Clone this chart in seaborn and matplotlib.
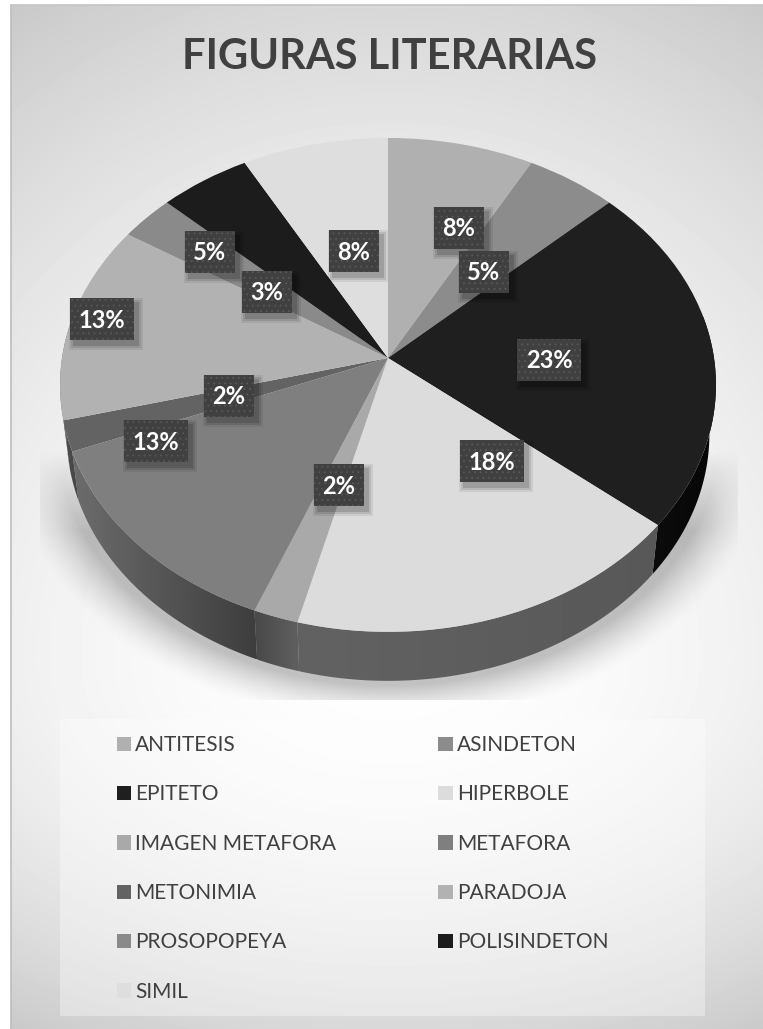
"""Figuras literarias: pastel en perspectiva, escala de grises."""

import matplotlib
matplotlib.use("Agg")
import matplotlib.patches as mpatches
import matplotlib.pyplot as plt
import matplotlib.transforms as mtrans
import numpy as np
import seaborn as sns

categorias = ["ANTITESIS", "ASINDETON", "EPITETO", "HIPERBOLE", "IMAGEN METAFORA", "METAFORA",
              "METONIMIA", "PARADOJA", "PROSOPOPEYA", "POLISINDETON", "SIMIL"]
valores = [8, 5, 23, 18, 2, 13, 2, 13, 3, 5, 8]

colores = ["#b0b0b0", "#8c8c8c", "#1f1f1f", "#dcdcdc", "#a9a9a9", "#7f7f7f",
           "#636363", "#b2b2b2", "#8a8a8a", "#1c1c1c", "#dedede"]
# gris del lateral (izquierda, derecha)
lateral = [(120, 120), (90, 90), (12, 6), (98, 88), (72, 96), (108, 62),
           (78, 70), (120, 112), (90, 90), (30, 30), (120, 120)]
# etiquetas movidas a mano en el original (centro en pixeles)
pos_etiquetas = [(459, 228), (484, 272), (549, 360), (492, 461), (339, 485), (156, 441),
                 (229, 396), (102, 319), (267, 292), (210, 252), (354, 251)]

W, H = 763, 1029
CX, CY = 388, 358
RX, RY, PERSP = 326, 244, 0.109
GROSOR = 49


class Proyeccion(mtrans.Transform):
    """Circulo unidad -> elipse con el centro desplazado (perspectiva)."""
    input_dims = 2
    output_dims = 2

    def transform_non_affine(self, values):
        x, y = values[:, 0], values[:, 1]
        d = 1 + PERSP * y
        return np.column_stack([CX + RX * x / d, CY - RY * y / d])


def proyecta(theta):
    x, y = np.cos(theta), np.sin(theta)
    return Proyeccion().transform_non_affine(np.column_stack([x, y]))


sns.set_theme(style="white")
plt.rcParams["font.family"] = ["Lato", "DejaVu Sans"]
plt.rcParams["hatch.linewidth"] = 0.6
paleta = sns.color_palette(colores)

fig = plt.figure(figsize=(W / 100, H / 100), dpi=100, facecolor="white")
ax = fig.add_axes([0, 0, 1, 1])

# fondo con degradado
yy, xx = np.mgrid[5:H, 11:W]
dy = yy - 660.0
k_y = np.where(dy < 0, 39 / 660**2, 36 / 360**2)
fondo = 254 - 15 * ((xx - 390) / 380) ** 2 - k_y * dy**2
ax.imshow(fondo, cmap="gray", vmin=0, vmax=255, extent=(11, W, H, 5), aspect="auto", zorder=0)
ax.plot([11, 11], [5, H], color="#bdbdbd", lw=1.2, zorder=1)
ax.plot([11, W], [5, 5], color="#c4c4c4", lw=1.2, zorder=1)

# sombra bajo el pastel
yy, xx = np.mgrid[450:700, 40:738]
r = np.hypot((xx - 388) / 331.0, (yy - 435) / 250.0)
dist = np.clip((r - 1) * 290, 0, None)
alfa = 0.24 * np.clip(1 - dist / 48, 0, 1) ** 1.6 * np.clip((yy - 450) / 80, 0, 1)
sombra = np.zeros(alfa.shape + (4,))
sombra[..., 3] = alfa
ax.imshow(sombra, extent=(40, 738, 700, 450), aspect="auto", zorder=1)

# cara superior
wedges, _ = ax.pie(valores, colors=paleta, startangle=90, counterclock=False,
                   wedgeprops={"linewidth": 0, "zorder": 3})
proy = Proyeccion() + ax.transData
for w in wedges:
    w.set_transform(proy)

# lateral del pastel
for w, (g_izq, g_der) in zip(wedges, lateral):
    t1, t2 = w.theta1 % 360, w.theta2 % 360
    if t2 <= t1:
        t2 += 360
    ini, fin = max(t1, 170), min(t2, 370)
    if fin <= ini:
        continue
    arco = proyecta(np.radians(np.linspace(ini, fin, 80)))
    abajo = arco.copy()
    abajo[:, 0] = CX + (abajo[:, 0] - CX) * 0.98
    abajo[:, 1] += GROSOR
    pts = np.vstack([arco, abajo[::-1]])
    x0, x1 = pts[:, 0].min(), pts[:, 0].max()
    y0, y1 = pts[:, 1].min(), pts[:, 1].max()
    im = ax.imshow(np.linspace(g_izq, g_der, 64)[None, :], cmap="gray", vmin=0, vmax=255,
                   extent=(x0, x1, y1, y0), aspect="auto", zorder=2)
    im.set_clip_path(mpatches.Polygon(pts, transform=ax.transData))

# etiquetas
for val, (px, py) in zip(valores, pos_etiquetas):
    txt = f"{val}%"
    bw = 64 if val >= 10 else 50
    bh = 42
    for extra, a in [(5, 0.07), (3, 0.1), (1, 0.14)]:
        ax.add_patch(mpatches.Rectangle((px - bw / 2 + 4 - extra, py - bh / 2 + 5 - extra),
                                        bw + 2 * extra, bh + 2 * extra, facecolor="black",
                                        edgecolor="none", alpha=a, zorder=4))
    ax.add_patch(mpatches.Rectangle((px - bw / 2, py - bh / 2), bw, bh, facecolor="#404040",
                                    edgecolor="#585858", hatch="...", linewidth=0, zorder=5))
    ax.text(px, py + 1, txt, color="white", fontsize=17, fontweight="bold", ha="center",
            va="center", zorder=6)

# leyenda
ax.add_patch(mpatches.Rectangle((60, 719), 645, 297, facecolor="white", edgecolor="none",
                                alpha=0.35, zorder=2))
orden = [0, 2, 4, 6, 8, 10, 1, 3, 5, 7, 9]
handles = [mpatches.Patch(facecolor=colores[i], edgecolor="none", label=categorias[i]) for i in orden]
ax.legend(handles=handles, ncols=2, loc="upper left", bbox_to_anchor=(117, 735),
          bbox_transform=ax.transData, frameon=False, fontsize=15, labelcolor="#404040",
          borderpad=0, borderaxespad=0, handlelength=0.68, handleheight=0.68,
          handletextpad=0.2, labelspacing=1.41, columnspacing=4.9)

ax.text(389, 57, "FIGURAS LITERARIAS", color="#404040", fontsize=30, fontweight="bold",
        ha="center", va="center", zorder=6)

ax.set_xlim(0, W)
ax.set_ylim(H, 0)
ax.set_aspect("auto")
ax.axis("off")
plt.savefig("out.png", dpi=100)
plt.close()
